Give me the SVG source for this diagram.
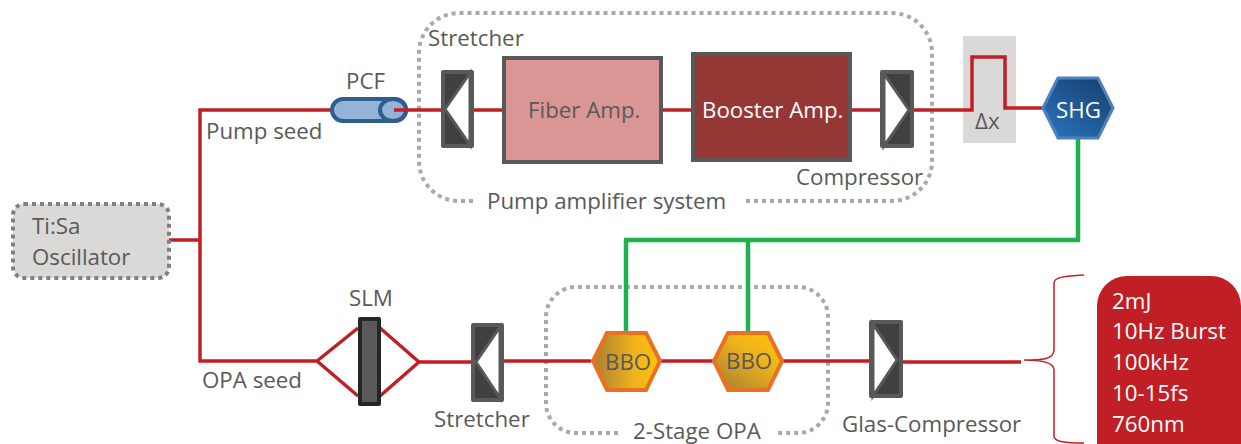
<svg xmlns="http://www.w3.org/2000/svg" width="1241" height="444" viewBox="0 0 1241 444">
<style>
text{font-family:"Open Sans","Liberation Sans",sans-serif;font-size:22.3px;fill:#595959}
.w{fill:#fff}
.dash{fill:none;stroke:#a9a9a9;stroke-width:4;stroke-dasharray:4 4}
.red{fill:none;stroke:#c01f26;stroke-width:3.5;stroke-linejoin:miter}
.grn{fill:none;stroke:#1fb050;stroke-width:4.5}
.pb{fill:#404040;stroke:#595959;stroke-width:4;stroke-linejoin:round}
.pw{fill:#fff;stroke:#595959;stroke-width:3}
.hx{stroke:#e97123;stroke-width:4;stroke-linejoin:miter}
</style>
<defs>
<linearGradient id="b1" x1="0" y1="0" x2="1" y2="0"><stop offset="0" stop-color="#a67f33"/><stop offset="0.6" stop-color="#eeb21c"/><stop offset="1" stop-color="#ffc30d"/></linearGradient>
<linearGradient id="b2" x1="0.1" y1="1" x2="0.9" y2="0"><stop offset="0" stop-color="#a67f33"/><stop offset="0.6" stop-color="#eeb21c"/><stop offset="1" stop-color="#ffc30d"/></linearGradient>
<linearGradient id="s1" x1="0.9" y1="0" x2="0.1" y2="1"><stop offset="0" stop-color="#17406f"/><stop offset="1" stop-color="#2a72bb"/></linearGradient>
</defs>
<g id="groups">
<path class="dash" d="M473 201H459A40 40 0 0 1 419 161V53A40 40 0 0 1 459 13H892A40 40 0 0 1 932 53V161A40 40 0 0 1 892 201H743"/>
<path class="dash" d="M618 433H576A30 30 0 0 1 546 403V317A30 30 0 0 1 576 287H798A30 30 0 0 1 828 317V403A30 30 0 0 1 798 433H776"/>
</g>
<g id="delay-bg"><rect x="963" y="36" width="53" height="107" fill="#dad9d7"/></g>
<g id="connectors">
<path class="red" d="M168 240H200M331 110H200V361H317M317 361L358 328M317 361L358 396M419 362L380 328M419 362L380 396M419 362H472M502 361H591M660 361H713M782 361H870M903 362H1021"/>
<path class="red" d="M394 110H442M473 110H502M662 110H691M851 110H881M913 110H972V57H1005V108H1043"/>
<path class="grn" d="M1078 138V240M1080 240H624M626 240V332M748 240V332"/>
<path fill="none" stroke="#c01f26" stroke-width="1.5" d="M1024 360C1040 360 1054 360 1054 350V283C1054 277 1066 276 1084 275M1054 370C1054 362 1040 360 1024 360M1054 370V436C1054 442 1066 443 1084 443"/>
</g>
<g id="oscillator">
<rect x="13" y="204" width="156" height="74" rx="11" fill="#dad9d7" stroke="#7f7f7f" stroke-width="4" stroke-dasharray="4 4"/>
<text x="32" y="234">Ti:Sa</text>
<text x="32" y="265">Oscillator</text>
</g>
<g id="pcf">
<rect x="332" y="99" width="74" height="22" rx="11" fill="#95b3d7" stroke="#2f5e8e" stroke-width="4"/>
<ellipse cx="393" cy="110" rx="13" ry="11" fill="#95b3d7" stroke="#2f5e8e" stroke-width="4"/>
<path class="red" d="M394 110H407"/>
<text x="346" y="89">PCF</text>
</g>
<g id="stretcher1">
<rect class="pb" x="443" y="72" width="29" height="74"/>
<path class="pw" d="M445 109L470 73V145Z"/>
</g>
<g id="fiber-amp">
<rect x="504" y="58" width="157" height="104" fill="#d99694" stroke="#595959" stroke-width="4"/>
<text x="528" y="118">Fiber Amp.</text>
</g>
<g id="booster-amp">
<rect x="693" y="54" width="157" height="106" fill="#953735" stroke="#595959" stroke-width="4"/>
<text class="w" x="702" y="118">Booster Amp.</text>
</g>
<g id="compressor1">
<rect class="pb" x="882" y="72" width="30" height="74"/>
<path class="pw" d="M909 110L884 74V146Z"/>
</g>
<g id="delay"><text x="975" y="129">Δx</text></g>
<g id="shg">
<path d="M1043 108L1058 78H1098L1113 108L1098 138H1058Z" fill="url(#s1)" stroke="#4f81bd" stroke-width="3"/>
<text class="w" x="1056" y="118">SHG</text>
</g>
<g id="slm">
<rect x="360" y="319" width="19" height="85" fill="#595959" stroke="#262626" stroke-width="4" stroke-linejoin="round"/>
<text x="349" y="306">SLM</text>
</g>
<g id="stretcher2">
<rect class="pb" x="473" y="325" width="29" height="75"/>
<path class="pw" d="M476 362L500 327V398Z"/>
</g>
<g id="bbo1">
<path class="hx" fill="url(#b1)" d="M593 361L607 333H646L660 361L646 390H607Z"/>
<text x="605" y="370">BBO</text>
</g>
<g id="bbo2">
<path class="hx" fill="url(#b2)" d="M714 361L728 333H768L782 361L768 390H728Z"/>
<text x="726" y="369">BBO</text>
</g>
<g id="compressor2">
<rect class="pb" x="871" y="322" width="30" height="74"/>
<path class="pw" d="M897 360L873 324V396Z"/>
</g>
<g id="result">
<path d="M1127 276H1211A30 30 0 0 1 1241 306V444H1097V306A30 30 0 0 1 1127 276Z" fill="#c01f26"/>
<text class="w" x="1112" y="309">2mJ</text>
<text class="w" x="1112" y="339">10Hz Burst</text>
<text class="w" x="1112" y="370">100kHz</text>
<text class="w" x="1112" y="401">10-15fs</text>
<text class="w" x="1112" y="432">760nm</text>
</g>
<g id="labels">
<text x="428" y="46">Stretcher</text>
<text x="206" y="139">Pump seed</text>
<text x="487" y="209">Pump amplifier system</text>
<text x="796" y="185">Compressor</text>
<text x="202" y="388">OPA seed</text>
<text x="434" y="427">Stretcher</text>
<text x="633" y="438.5">2-Stage OPA</text>
<text x="842" y="432">Glas-Compressor</text>
</g>
</svg>
